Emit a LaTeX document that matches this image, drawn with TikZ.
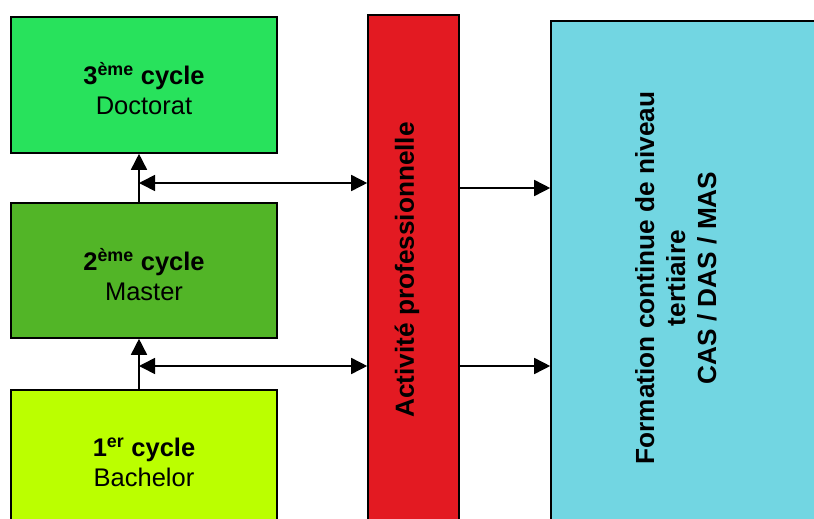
\documentclass[tikz,border=0pt]{standalone}
\usepackage{fontspec}
\setmainfont{Liberation Sans}
\usetikzlibrary{arrows.meta}
\usetikzlibrary{positioning}

\definecolor{docgreen}{RGB}{40,226,92}
\definecolor{mastgreen}{RGB}{82,181,39}
\definecolor{bachgreen}{RGB}{187,255,0}
\definecolor{actred}{RGB}{227,26,34}
\definecolor{formcyan}{RGB}{114,214,226}

\tikzset{
  colbox/.style={draw, line width=1.6pt},
  cyclebox/.style={colbox, minimum width=266pt, align=center, text height=60pt, font=\fontsize{25.5}{30}\selectfont},
  vlabel/.style={rotate=90, align=center, font=\fontsize{26.2}{31}\selectfont\bfseries},
  link/.style={line width=1.6pt, ->},
}

\begin{document}
\begin{tikzpicture}[x=1pt, y=-1pt, >={Triangle[length=16pt,width=16pt]}]
    \clip (0,0) rectangle (814,519);

    \node[cyclebox, fill=docgreen, minimum height=136pt] (doc) at (144,85) {\textbf{3\textsuperscript{ème} cycle}\\Doctorat};
    \node[cyclebox, fill=mastgreen, minimum height=135pt] (mas) at (144,270.5) {\textbf{2\textsuperscript{ème} cycle}\\Master};
    \node[cyclebox, fill=bachgreen, minimum height=134pt] (bach) at (144,457) {\textbf{1\textsuperscript{er} cycle}\\Bachelor};

    \node[colbox, fill=actred, minimum width=91pt, minimum height=510pt] (act) at (413.5,270) {};
    \node[vlabel] (actlbl) at (407,270) {Activité professionnelle};

    \node[colbox, fill=formcyan, minimum width=300pt, minimum height=540pt] (form) at (701,291) {};
    \node[vlabel] (formlbl) at (676,278) {Formation continue de niveau\\tertiaire\\CAS / DAS / MAS};

    \coordinate (j1) at (139,183);
    \coordinate (j2) at (139,366);
    \coordinate (o1) at (459,188);
    \coordinate (o2) at (459,366);

    \draw[link] (mas.north -| j1) -- (doc.south -| j1);
    \draw[link] (bach.north -| j2) -- (mas.south -| j2);
    \draw[link, <->] (j1) -- (j1 -| act.west);
    \draw[link, <->] (j2) -- (j2 -| act.west);
    \draw[link] (o1) -- (o1 -| form.west);
    \draw[link] (o2) -- (o2 -| form.west);
\end{tikzpicture}
\end{document}
